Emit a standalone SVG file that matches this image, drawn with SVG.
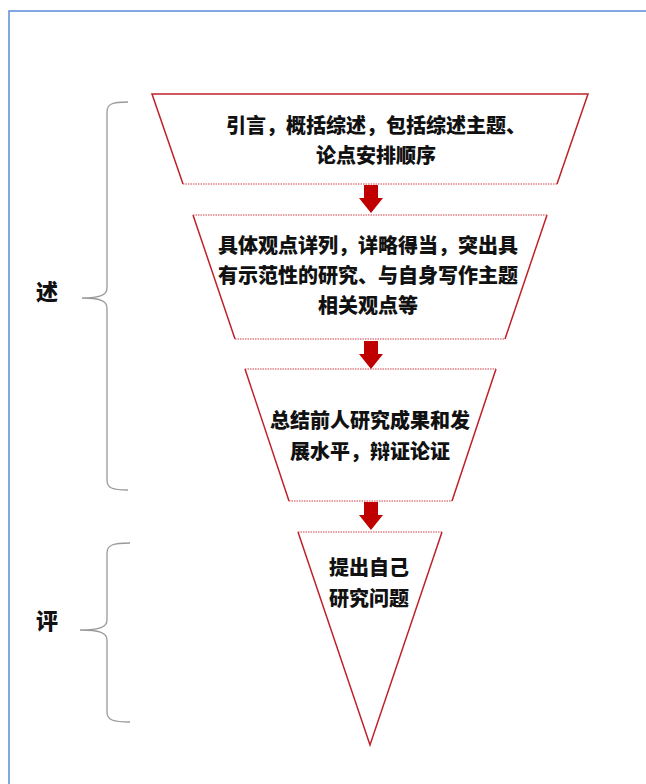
<svg xmlns="http://www.w3.org/2000/svg" width="646" height="784" viewBox="0 0 646 784">
<style>
.shape{fill:#fff;stroke:none}
.edge{stroke:#c0202a;stroke-width:1.5;fill:none}
.dot{stroke:#d04048;stroke-width:1.2;stroke-dasharray:1.5 1;fill:none}
.txt{font-family:"Noto Sans CJK SC","Noto Sans",sans-serif;font-weight:900;font-size:20px;fill:#111;text-anchor:middle}
.lab{font-family:"Noto Sans CJK SC","Noto Sans",sans-serif;font-weight:900;font-size:22px;fill:#111;text-anchor:middle}
.brace{stroke:#9a9a9a;stroke-width:1.3;fill:none}
.arrow{fill:#c00000}
</style>
<defs>
<path id="arr" d="M-7,0 H7 V13 H12 L0,28 L-12,13 H-7 Z"/>
</defs>
<rect width="646" height="784" fill="#fff"/>
<path d="M9,784 V11 H646" stroke="#5b8bd6" stroke-width="1.5" fill="none"/>

<g id="node1">
<polygon class="shape" points="152,94 588,94 557,184 183,184"/>
<path class="edge" d="M183,184 L152,94 H588 L557,184"/>
<path class="dot" d="M183,184 H557"/>
<text class="txt" x="376" y="133">引言，概括综述，包括综述主题、</text>
<text class="txt" x="376" y="163">论点安排顺序</text>
</g>

<g id="node2">
<polygon class="shape" points="193,215 547,215 505,339 235,339"/>
<path class="edge" d="M235,339 L193,215 M547,215 L505,339"/>
<path class="dot" d="M193,215 H547 M235,339 H505"/>
<text class="txt" x="368" y="253">具体观点详列，详略得当，突出具</text>
<text class="txt" x="368" y="283">有示范性的研究、与自身写作主题</text>
<text class="txt" x="368" y="313">相关观点等</text>
</g>

<g id="node3">
<polygon class="shape" points="245,369 496,369 452,501 289,501"/>
<path class="edge" d="M289,501 L245,369 M496,369 L452,501"/>
<path class="dot" d="M245,369 H496 M289,501 H452"/>
<text class="txt" x="370" y="428">总结前人研究成果和发</text>
<text class="txt" x="370" y="459">展水平，辩证论证</text>
</g>

<g id="node4">
<polygon class="shape" points="298,532 442,532 370,745"/>
<path class="edge" d="M298,532 L370,745 L442,532"/>
<path class="dot" d="M298,532 H442"/>
<text class="txt" x="369" y="575">提出自己</text>
<text class="txt" x="369" y="606">研究问题</text>
</g>

<g id="label-shu">
<text class="lab" x="47" y="300">述</text>
</g>
<g id="label-ping">
<text class="lab" x="47" y="629">评</text>
</g>

<g id="connectors">
<use href="#arr" class="arrow" x="371" y="185"/>
<use href="#arr" class="arrow" x="371" y="341"/>
<use href="#arr" class="arrow" x="371" y="502"/>
<path class="brace" d="M128,102 C112,102 107,104 107,112 V288 C107,295 100,298 82,298 C100,298 107,301 107,308 V480 C107,488 112,490 128,490"/>
<path class="brace" d="M130,543 C113,543 107,545 107,553 V620 C107,627 100,630 80,630 C100,630 107,633 107,640 V712 C107,720 113,722 130,722"/>
</g>
</svg>
